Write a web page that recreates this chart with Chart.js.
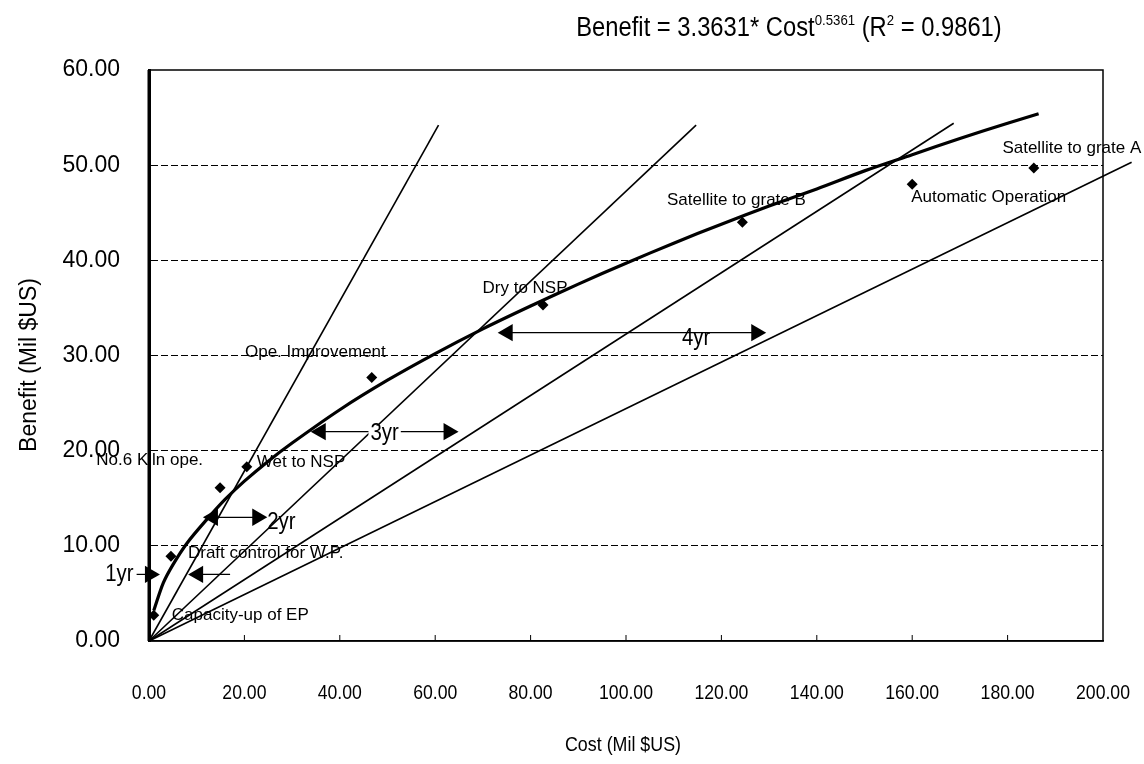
<!DOCTYPE html>
<html>
<head>
<meta charset="utf-8">
<script src="https://cdn.jsdelivr.net/npm/chart.js@4.4.1/dist/chart.umd.min.js"></script>
<style>
  html, body { margin: 0; padding: 0; background: #fff; }
  #wrap { width: 1144px; height: 764px; position: relative; }
</style>
</head>
<body>
<div id="wrap"><canvas id="grafico"></canvas></div>
<script>
// Projects: cost x annual benefit (Mil $US)
const projetos = ['Capacity-up of EP', 'Draft control for W.P.', 'No.6 Kiln ope.', 'Wet to NSP',
  'Ope. Improvement', 'Dry to NSP', 'Satellite to grate B', 'Automatic Operation', 'Satellite to grate A'];
const custo = [1.0, 4.6, 14.9, 20.5, 46.7, 82.6, 124.4, 160.0, 185.5];
const beneficio = [2.7, 8.9, 16.1, 18.3, 27.7, 35.3, 44.0, 48.0, 49.7];

// Fitted curve
const curvaX = [1, 3, 5, 8, 12, 16, 20, 25, 30, 40, 50, 60, 70, 80, 90, 100, 110, 120, 130, 140, 150, 160, 170, 180, 186.5];
const curvaY = [3.2, 6.1, 8.0, 10.3, 12.7, 14.9, 16.8, 18.9, 20.8, 24.3, 27.4, 30.2, 32.8, 35.2, 37.5, 39.7, 41.8, 43.8, 45.7, 47.5, 49.4, 51.1, 52.8, 54.4, 55.4];

// Payback lines from origin (end points)
const anos = ['1yr', '2yr', '3yr', '4yr'];
const fimX = [60.7, 114.7, 168.7, 206.0];
const fimY = [54.2, 54.2, 54.4, 50.3];

// Horizontal arrows: benefit level, left triangle, right triangle
const setaY = [7.0, 13.0, 22.0, 32.4];
const setaIni = [0.2, 13.4, 36.0, 75.2];
const setaFim = [10.3, 22.7, 62.8, 127.3];

// Axis ticks
const ticksX = [0, 20, 40, 60, 80, 100, 120, 140, 160, 180, 200];
const ticksY = [0, 10, 20, 30, 40, 50, 60];

const SANS = '"Liberation Sans", Arial, sans-serif';

// label placement relative to each diamond (pixels)
const rotuloPos = [
  { dx: 18, dy: 0, al: 'left' },
  { dx: 17, dy: -3, al: 'left' },
  { dx: -17, dy: -27, al: 'right' },
  { dx: 10, dy: -5, al: 'left' },
  { dx: 14, dy: -25, al: 'right' },
  { dx: -18, dy: -17, al: 'center' },
  { dx: -6, dy: -22, al: 'center' },
  { dx: -1, dy: 13, al: 'left' },
  { dx: 38, dy: -20, al: 'center' }
];

const pts = (xs, ys) => xs.map((x, i) => ({ x, y: ys[i] }));

const datasets = [];

// payback lines
anos.forEach((a, i) => {
  datasets.push({
    label: a, data: [{ x: 0, y: 0 }, { x: fimX[i], y: fimY[i] }],
    showLine: true, borderColor: '#000', borderWidth: 1.6, pointRadius: 0, clip: false
  });
});

// fitted curve
datasets.push({
  label: 'fit', data: pts(curvaX, curvaY), showLine: true, borderColor: '#000',
  borderWidth: 3.2, pointRadius: 0, tension: 0.3
});

// projects
datasets.push({
  label: 'projetos', data: pts(custo, beneficio), pointStyle: 'rectRot',
  pointRadius: 5.5, backgroundColor: '#000', borderColor: '#000', borderWidth: 0
});

// arrows (1yr points inward, the others outward)
anos.forEach((a, i) => {
  const dentro = i === 0;
  datasets.push({
    label: 'seta ' + a,
    data: [{ x: setaIni[i], y: setaY[i] }, { x: setaFim[i], y: setaY[i] }],
    showLine: !dentro, borderColor: '#000', borderWidth: 1.2,
    pointStyle: 'triangle', pointRadius: 10, pointRotation: dentro ? [90, -90] : [-90, 90],
    backgroundColor: '#000', pointBorderWidth: 0, clip: false
  });
  if (dentro) {
    datasets.push({ label: 'cauda1', data: [{ x: -2.6, y: setaY[i] }, { x: setaIni[i], y: setaY[i] }],
      showLine: true, borderColor: '#000', borderWidth: 1.2, pointRadius: 0, clip: false });
    datasets.push({ label: 'cauda2', data: [{ x: setaFim[i], y: setaY[i] }, { x: 17, y: setaY[i] }],
      showLine: true, borderColor: '#000', borderWidth: 1.2, pointRadius: 0, clip: false });
  }
});

// condensed text (no narrow font installed)
function estreito(ctx, t, px, py, esc) {
  ctx.save();
  ctx.translate(px, py);
  ctx.scale(esc, 1);
  ctx.fillText(t, 0, 0);
  ctx.restore();
}

// texts, frame and inner tick marks
const extras = {
  id: 'extras',
  afterDraw(chart) {
    const { ctx, chartArea: a, scales: { x, y } } = chart;
    ctx.save();
    ctx.fillStyle = '#000';
    ctx.strokeStyle = '#000';

    // frame
    ctx.lineWidth = 1.5;
    ctx.strokeRect(a.left, a.top, a.right - a.left, a.bottom - a.top);
    ctx.lineWidth = 3;
    ctx.beginPath(); ctx.moveTo(a.left, a.top); ctx.lineTo(a.left, a.bottom); ctx.stroke();

    // small tick marks on x axis, pointing up, and their labels
    ctx.lineWidth = 1;
    ticksX.slice(1, -1).forEach(v => {
      const px = x.getPixelForValue(v);
      ctx.beginPath(); ctx.moveTo(px, a.bottom); ctx.lineTo(px, a.bottom - 6); ctx.stroke();
    });
    ctx.font = '21px ' + SANS;
    ctx.textAlign = 'center';
    ctx.textBaseline = 'middle';
    ticksX.forEach(v => estreito(ctx, v.toFixed(2), x.getPixelForValue(v), 693, 0.84));

    // project labels
    ctx.font = '17px ' + SANS;
    projetos.forEach((p, i) => {
      const r = rotuloPos[i];
      ctx.textAlign = r.al;
      ctx.fillText(p, x.getPixelForValue(custo[i]) + r.dx, y.getPixelForValue(beneficio[i]) + r.dy);
    });

    // arrow labels
    ctx.font = '24px ' + SANS;
    const yy = i => y.getPixelForValue(setaY[i]);
    ctx.textAlign = 'right';
    estreito(ctx, anos[0], x.getPixelForValue(-2.6) - 3, yy(0), 0.85);
    ctx.textAlign = 'left';
    estreito(ctx, anos[1], x.getPixelForValue(setaFim[1]) + 10, yy(1) + 5, 0.85);
    // 3yr sits on the line
    ctx.textAlign = 'center';
    const m3 = (x.getPixelForValue(setaIni[2]) + x.getPixelForValue(setaFim[2])) / 2;
    const w3 = ctx.measureText(anos[2]).width * 0.85;
    ctx.fillStyle = '#fff';
    ctx.fillRect(m3 - w3 / 2 - 2, yy(2) - 6, w3 + 4, 12);
    ctx.fillStyle = '#000';
    estreito(ctx, anos[2], m3, yy(2) + 2, 0.85);
    ctx.textAlign = 'right';
    estreito(ctx, anos[3], x.getPixelForValue(setaFim[3]) - 46, yy(3) + 6, 0.85);

    // title with superscripts
    const partes = [
      ['Benefit = 3.3631* Cost', false], ['0.5361', true], [' (R', false], ['2', true], [' = 0.9861)', false]
    ];
    const esc = 0.88;
    const fN = '27px ' + SANS, fS = '15px ' + SANS;
    let total = 0;
    partes.forEach(([t, s]) => { ctx.font = s ? fS : fN; total += ctx.measureText(t).width * esc; });
    let cx = 789 - total / 2;
    ctx.textAlign = 'left';
    ctx.textBaseline = 'alphabetic';
    partes.forEach(([t, s]) => {
      ctx.font = s ? fS : fN;
      estreito(ctx, t, cx, s ? 25 : 36, esc);
      cx += ctx.measureText(t).width * esc;
    });

    // axis titles
    ctx.font = '21px ' + SANS;
    ctx.textAlign = 'center';
    ctx.textBaseline = 'middle';
    estreito(ctx, 'Cost (Mil $US)', 623, 745, 0.85);
    ctx.font = '23px ' + SANS;
    ctx.translate(30, 365);
    ctx.rotate(-Math.PI / 2);
    ctx.fillText('Benefit (Mil $US)', 0, 0);
    ctx.restore();
  }
};

new Chart(document.getElementById('grafico'), {
  type: 'scatter',
  data: { datasets },
  options: {
    responsive: true,
    maintainAspectRatio: false,
    animation: false,
    layout: { padding: { left: 0, top: 70, right: 41, bottom: 0 } },
    plugins: { legend: { display: false }, tooltip: { enabled: false } },
    scales: {
      x: {
        type: 'linear', min: 0, max: 200,
        afterFit: s => { s.height = 123; s.paddingLeft = 0; s.paddingRight = 0; },
        afterBuildTicks: s => { s.ticks = ticksX.map(v => ({ value: v })); },
        grid: { display: false, drawTicks: false },
        border: { display: true, color: '#000', width: 1.5 },
        ticks: { display: false }
      },
      y: {
        type: 'linear', min: 0, max: 60,
        afterFit: s => { s.width = 149; s.paddingTop = 0; s.paddingBottom = 0; },
        afterBuildTicks: s => { s.ticks = ticksY.map(v => ({ value: v })); },
        grid: {
          drawTicks: false, lineWidth: 1,
          color: c => (c.tick && c.tick.value > 0 && c.tick.value < 60) ? '#000' : 'rgba(0,0,0,0)'
        },
        border: { display: true, color: '#000', width: 3, dash: [7, 3] },
        ticks: { padding: 29, color: '#000', font: { family: SANS, size: 23 }, callback: v => v.toFixed(2) }
      }
    }
  },
  plugins: [extras]
});
</script>
</body>
</html>
